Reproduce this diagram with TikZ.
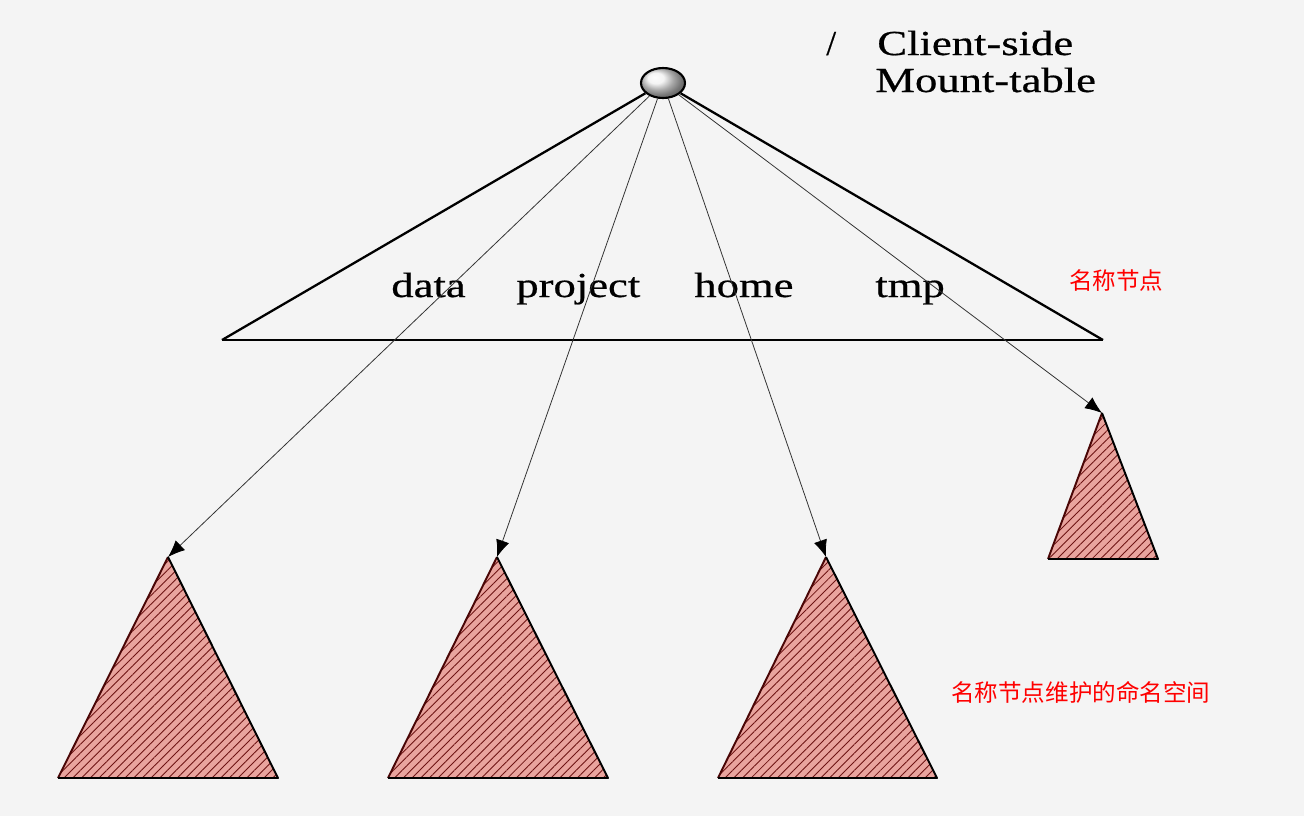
\documentclass[tikz,border=0pt]{standalone}
\usepackage{fontspec}
\setmainfont{Liberation Serif}
\newfontfamily\labelfont{Liberation Serif}[FakeBold=0.5]
\newfontfamily\cjk{Noto Sans CJK SC}
\usetikzlibrary{shapes.geometric,arrows.meta,patterns.meta}
\definecolor{pagegray}{HTML}{F4F4F4}
\definecolor{subtreered}{HTML}{E9A49E}
\definecolor{hatchred}{HTML}{6E1414}
\definecolor{edgered}{HTML}{4A0606}
\newcommand\WideText[1]{\scalebox{1.27}[1]{#1}}
\newcommand\DrawSubtree[6]{
  \coordinate (#1) at (#2,#3);
  \coordinate (#1l) at (#4,#6);
  \coordinate (#1r) at (#5,#6);
  \fill[fill=subtreered] (#1) -- (#1l) -- (#1r) -- cycle;
  \fill[pattern={Lines[angle=45,distance=3.5pt,line width=0.5pt]},pattern color=hatchred]
    (#1) -- (#1l) -- (#1r) -- cycle;
  \draw[line width=1.1pt,edgered] (#1l) -- (#1);
  \draw[line width=1.1pt,line join=round] (#1) -- (#1r) -- (#1l);
}

\begin{document}
\begin{tikzpicture}[x=0.02cm,y=-0.02cm,
  label text/.style={font=\labelfont\fontsize{20}{24}\selectfont,anchor=base west,inner sep=0pt},
  note text/.style={font=\cjk\fontsize{13.4}{16}\selectfont,text=red,anchor=base west,inner sep=0pt},
  mount/.style={-{Latex[length=0.34cm,width=0.27cm,black]},line width=0.45pt,black!80}]

	% page
	\fill[pagegray] (0,0) rectangle (1304,816);
	\useasboundingbox (0,0) rectangle (1304,816);

	% the root
	\node[ellipse,draw,line width=1.2pt,minimum width=0.88cm,minimum height=0.6cm,inner sep=0pt,
	  shading=ball,ball color=gray!12] (root) at (663,83) {};

	% the mount table
	\coordinate (tableleft) at (222,340);
	\coordinate (tableright) at (1103,340);
	\draw[line width=1.3pt] (tableleft) -- (root);
	\draw[line width=1.3pt] (tableright) -- (root);
	\draw[line width=1.3pt] (tableleft) -- (tableright);

	\node[label text] (slash) at (826,55) {/};
	\node[label text] (client) at (877,55) {\WideText{Client-side}};
	\node[label text] (mounttable) at (875,92) {\WideText{Mount-table}};

	\node[label text] (data) at (391,297) {\WideText{data}};
	\node[label text] (project) at (516,297) {\WideText{project}};
	\node[label text] (home) at (694,297) {\WideText{home}};
	\node[label text] (tmp) at (875,297) {\WideText{tmp}};

	% the subtrees
	\DrawSubtree{datatree}{168}{557}{58}{278}{778}
	\DrawSubtree{projecttree}{497}{557}{388}{608}{778}
	\DrawSubtree{hometree}{826}{557}{718}{937}{778}
	\DrawSubtree{tmptree}{1102}{413}{1048}{1158}{559}

	\foreach \Tree in {datatree,projecttree,hometree,tmptree}
	  \draw[mount] (root) -- (\Tree);

	% notes
	\node[note text] (namenode) at (1069,289) {名称节点};
	\node[note text] (namespace) at (951,701) {名称节点维护的命名空间};
\end{tikzpicture}
\end{document}
